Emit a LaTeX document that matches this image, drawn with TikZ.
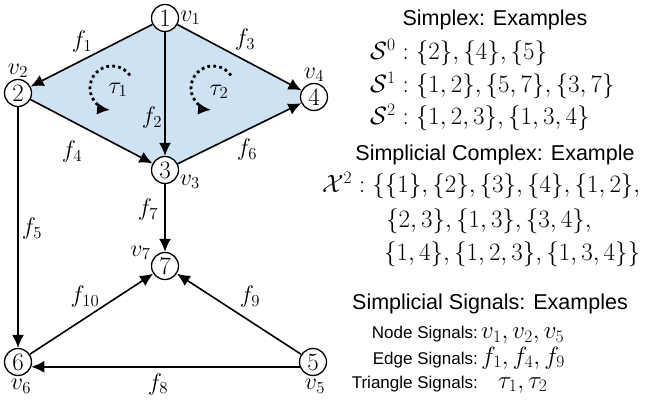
\RequirePackage{fix-cm}
\documentclass[tikz,border=0pt]{standalone}
\usepackage{amsmath, amssymb}
\usepackage{fontspec}
\newfontfamily\headfont{Liberation Sans}
\usepackage{xcolor}
\usepackage{tikz}
\usetikzlibrary{arrows.meta, positioning, backgrounds}
\definecolor{simplexblue}{RGB}{207,226,243}

\begin{document}
\begin{tikzpicture}[x=1pt, y=1pt, >={Latex[length=13pt,width=12pt]},
    vtx/.style={circle, draw, line width=1.3pt, fill=white, minimum size=27pt, inner sep=0pt, font=\fontsize{25}{25}\selectfont},
    lbl/.style={inner sep=1pt, font=\fontsize{24}{24}\selectfont},
    ed/.style={->, line width=1.6pt},
    rot/.style={->, line width=2.8pt, dash pattern=on 2.8pt off 3.2pt},
    head/.style={font=\headfont\fontsize{21.5}{24}\selectfont},
    sig/.style={font=\headfont\fontsize{17}{20}\selectfont, inner sep=0pt},
    eq/.style={font=\fontsize{25}{27}\selectfont, inner sep=0pt, anchor=base west}]
    \useasboundingbox (0,0) rectangle (652,401);

    % Các đỉnh của phức đơn hình
    \node[vtx, label={[lbl]right:$v_1$}] (n1) at (165,383) {1};
    \node[vtx, label={[lbl]above:$v_2$}] (n2) at (18,308) {2};
    \node[vtx, label={[lbl]-15:$v_3$}] (n3) at (165,231) {3};
    \node[vtx, label={[lbl]above:$v_4$}] (n4) at (314,304) {4};
    \node[vtx, label={[lbl, xshift=2pt, yshift=-2pt]below:$v_5$}] (n5) at (313,39) {5};
    \node[vtx, label={[lbl, xshift=3pt, yshift=-2pt]below:$v_6$}] (n6) at (18,39) {6};
    \node[vtx, label={[lbl]160:$v_7$}] (n7) at (165,135) {7};

    % Miền tam giác tô màu
    \begin{scope}[on background layer]
        \fill[simplexblue] (n1.center) -- (n2.center) -- (n3.center) -- (n4.center) -- cycle;
    \end{scope}

    % Các cạnh có hướng
    \foreach \a/\b/\i/\x/\y in {1/2/1/82/359, 1/3/2/152/283, 1/4/3/245/361, 2/3/4/72/249,
        2/6/5/32/172, 3/4/6/247/251, 3/7/7/148/191, 5/7/9/250/104, 6/7/10/85/104} {
        \draw[ed] (n\a) -- (n\b);
        \node[lbl] (f\i) at (\x,\y) {$f_{\i}$};
    }
    \draw[ed] (n5.200) -- (n6.340);
    \node[lbl] (f8) at (158,17) {$f_8$};

    % Chiều quay của tam giác
    \draw[rot] (112,313) ++(35:22) arc[start angle=35, end angle=265, radius=22];
    \draw[rot] (213,313) ++(35:22) arc[start angle=35, end angle=265, radius=22];
    \node[lbl] (t1) at (118,311) {$\tau_1$};
    \node[lbl] (t2) at (219,309) {$\tau_2$};

    % Ví dụ bên phải
    \node[head] (simplex) at (495,381) {Simplex: Examples};
    \node[eq] (s0) at (370,341) {$\mathcal{S}^0 : \{2\}, \{4\}, \{5\}$};
    \node[eq] (s1) at (370,308) {$\mathcal{S}^1 : \{1,2\}, \{5,7\}, \{3,7\}$};
    \node[eq] (s2) at (370,276) {$\mathcal{S}^2 : \{1,2,3\}, \{1,3,4\}$};

    \node[head] (complex) at (495,246) {Simplicial Complex: Example};
    \node[eq] (x1) at (322,208) {$\mathcal{X}^2 : \{\{1\}, \{2\}, \{3\}, \{4\}, \{1,2\},$};
    \node[eq] (x2) at (386,173) {$\{2,3\}, \{1,3\}, \{3,4\},$};
    \node[eq] (x3) at (384,140) {$\{1,4\}, \{1,2,3\}, \{1,3,4\}\}$};

    \node[head] (signals) at (490,97) {Simplicial Signals: Examples};
    \node[sig, anchor=base east] (nodesig) at (478,62) {Node Signals:};
    \node[eq, base right=3pt of nodesig] (nodeval) {$v_1, v_2, v_5$};
    \node[sig, anchor=base east] (edgesig) at (478,37) {Edge Signals:};
    \node[eq, base right=3pt of edgesig] (edgeval) {$f_1, f_4, f_9$};
    \node[sig, anchor=base east] (trisig) at (478,13) {Triangle Signals:};
    \node[eq, base right=20pt of trisig] (trival) {$\tau_1, \tau_2$};
\end{tikzpicture}
\end{document}
